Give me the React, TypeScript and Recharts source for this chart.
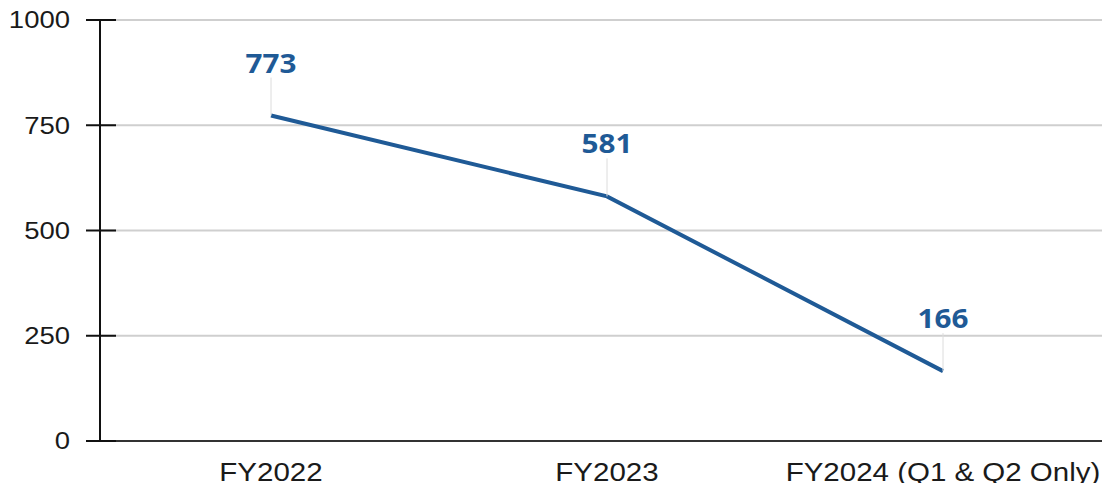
import React from "react";
import { LineChart, Line, XAxis, YAxis, CartesianGrid, LabelList } from "recharts";

const periods = ["FY2022", "FY2023", "FY2024 (Q1 & Q2 Only)"];
const counts = [773, 581, 166];
const yTicks = [0, 250, 500, 750, 1000];

const BLUE = "#1f5a96";
const AXIS_FONT = "'Liberation Sans', Arial, sans-serif";

const data = periods.map((period, i) => ({ period, count: counts[i] }));

function YTick(props: any) {
  const { x, y, payload } = props;
  return (
    <g>
      <line x1={x + 16} x2={x + 46} y1={y} y2={y} stroke="#111" strokeWidth={2} />
      <text
        transform={`translate(${x},${y}) scale(1.17,1)`}
        dy="0.36em"
        textAnchor="end"
        fontSize={23.5}
        fill="#1a1a1a"
        fontFamily={AXIS_FONT}
      >
        {payload.value}
      </text>
    </g>
  );
}

function XTick(props: any) {
  const { x, y, payload } = props;
  return (
    <text
      transform={`translate(${x},${y}) scale(1.18,1)`}
      dy="0.71em"
      textAnchor="middle"
      fontSize={25}
      fill="#1a1a1a"
      fontFamily={AXIS_FONT}
    >
      {payload.value}
    </text>
  );
}

function ValueLabel(props: any) {
  const { x, y, value } = props;
  return (
    <g>
      <line x1={x} x2={x} y1={y - 38} y2={y} stroke="#dcdcdc" strokeWidth={1} />
      <text
        transform={`translate(${x},${y - 43}) scale(1.12,1)`}
        textAnchor="middle"
        fontSize={26.5}
        fontWeight={700}
        fill={BLUE}
        fontFamily="'Open Sans', sans-serif"
      >
        {value}
      </text>
    </g>
  );
}

export default function App() {
  return (
    <div style={{ margin: -8 }}>
      <LineChart
        width={1110}
        height={491}
        data={data}
        margin={{ top: 20, right: 0, bottom: 0, left: 0 }}
      >
        <CartesianGrid vertical={false} stroke="#cfcfcf" strokeWidth={2} />
        <XAxis
          dataKey="period"
          tickLine={false}
          tickSize={0}
          tickMargin={22}
          padding={{ left: 171, right: 167 }}
          axisLine={{ stroke: "#333", strokeWidth: 2 }}
          tick={<XTick />}
          height={50}
          interval={0}
        />
        <YAxis
          domain={[0, 1000]}
          ticks={yTicks}
          width={100}
          tickLine={false}
          tickSize={14}
          tickMargin={16}
          axisLine={{ stroke: "#111", strokeWidth: 2 }}
          tick={<YTick />}
          interval={0}
        />
        <Line
          dataKey="count"
          stroke={BLUE}
          strokeWidth={4}
          dot={false}
          isAnimationActive={false}
        >
          <LabelList dataKey="count" content={<ValueLabel />} />
        </Line>
      </LineChart>
    </div>
  );
}
